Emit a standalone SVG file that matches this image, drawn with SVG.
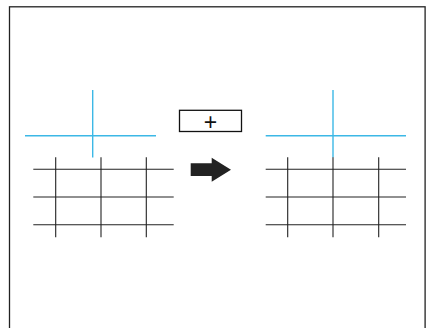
<svg xmlns="http://www.w3.org/2000/svg" width="427" height="328" viewBox="0 0 427 328">
<style>
.frame{fill:none;stroke:#222;stroke-width:1.3}
.blue{stroke:#3cb8e6;stroke-width:1.4;fill:none}
.grid{stroke:#222;stroke-width:1.1;fill:none}
.lbl{font-family:"Liberation Sans",Arial,sans-serif;font-size:23px;fill:#111}
</style>
<rect class="frame" x="9.5" y="6.8" width="415.6" height="330"/>
<g id="left">
<line class="blue" x1="25" y1="135.7" x2="156" y2="135.7"/>
<line class="blue" x1="92.7" y1="90" x2="92.7" y2="157.5"/>
<g class="grid">
<line x1="33.3" y1="169.3" x2="173.7" y2="169.3"/>
<line x1="33.3" y1="197" x2="173.7" y2="197"/>
<line x1="33.3" y1="224.7" x2="173.7" y2="224.7"/>
<line x1="55.7" y1="157.3" x2="55.7" y2="237.3"/>
<line x1="101" y1="157.3" x2="101" y2="237.3"/>
<line x1="146.3" y1="157.3" x2="146.3" y2="237.3"/>
</g>
</g>
<g id="button">
<rect x="179.5" y="110.3" width="62" height="21.2" fill="#fff" stroke="#111" stroke-width="1.3"/>
<text class="lbl" x="210.5" y="129.5" text-anchor="middle">+</text>
</g>
<g id="connectors">
<polygon points="190.7,163.3 211.7,163.3 211.7,157.7 231,169.7 211.7,181.7 211.7,176 190.7,176" fill="#222"/>
</g>
<g id="right">
<line class="blue" x1="265.7" y1="135.7" x2="406" y2="135.7"/>
<line class="blue" x1="333" y1="90" x2="333" y2="157.5"/>
<g class="grid">
<line x1="265.7" y1="169.3" x2="406" y2="169.3"/>
<line x1="265.7" y1="197" x2="406" y2="197"/>
<line x1="265.7" y1="224.7" x2="406" y2="224.7"/>
<line x1="287.7" y1="157.3" x2="287.7" y2="237.3"/>
<line x1="333" y1="157.3" x2="333" y2="237.3"/>
<line x1="378.7" y1="157.3" x2="378.7" y2="237.3"/>
</g>
</g>
</svg>
